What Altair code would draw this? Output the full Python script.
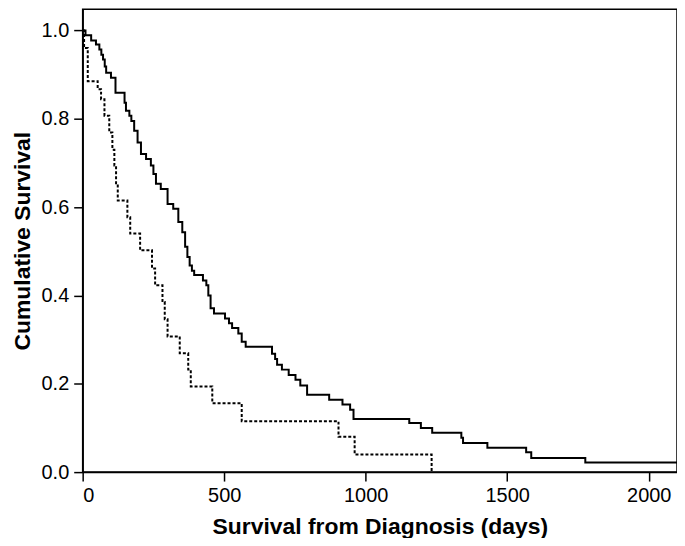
import altair as alt
import pandas as pd

# Solid curve (step-after): days, cumulative survival
solid_days = [0, 10, 30, 47, 59, 66, 72, 78, 83, 100, 116, 148, 153, 165, 172, 182, 194, 206,
              224, 241, 250, 259, 276, 300, 320, 338, 352, 362, 370, 378, 386, 394, 425, 437,
              444, 452, 464, 503, 517, 528, 550, 562, 576, 669, 680, 687, 704, 728, 752, 769,
              793, 871, 918, 945, 957, 1154, 1195, 1235, 1338, 1344, 1430, 1567, 1585, 1776, 2100]
solid_surv = [1.0, 0.989, 0.977, 0.968, 0.957, 0.945, 0.934, 0.918, 0.904, 0.893, 0.859, 0.836,
              0.818, 0.807, 0.795, 0.773, 0.746, 0.72, 0.709, 0.694, 0.675, 0.653, 0.641, 0.607,
              0.596, 0.566, 0.543, 0.51, 0.487, 0.468, 0.456, 0.446, 0.434, 0.423, 0.4, 0.371,
              0.359, 0.348, 0.337, 0.326, 0.314, 0.295, 0.284, 0.268, 0.256, 0.243, 0.232, 0.22,
              0.209, 0.196, 0.175, 0.164, 0.153, 0.141, 0.12, 0.111, 0.1, 0.089, 0.078, 0.066,
              0.055, 0.045, 0.032, 0.022, 0.022]

# Dashed curve (step-after)
dashed_days = [0, 5, 18, 53, 65, 77, 94, 105, 112, 118, 124, 158, 168, 203, 245, 256, 282, 290,
               300, 343, 373, 382, 458, 562, 904, 961, 1233]
dashed_surv = [1.0, 0.96, 0.885, 0.867, 0.844, 0.807, 0.769, 0.73, 0.694, 0.654, 0.615, 0.577,
               0.54, 0.502, 0.461, 0.423, 0.385, 0.346, 0.307, 0.269, 0.232, 0.194, 0.156, 0.115,
               0.08, 0.04, 0.0]

x_ticks = [0, 500, 1000, 1500, 2000]
y_ticks = [0.0, 0.2, 0.4, 0.6, 0.8, 1.0]

solid_df = pd.DataFrame({"days": solid_days, "surv": solid_surv})
dashed_df = pd.DataFrame({"days": dashed_days, "surv": dashed_surv})

FONT = "Liberation Sans"

x_enc = alt.X("days:Q",
              scale=alt.Scale(domain=[0, 2100], nice=False, zero=False),
              axis=alt.Axis(values=x_ticks, title="Survival from Diagnosis (days)",
                            format="d", grid=False))
y_enc = alt.Y("surv:Q",
              scale=alt.Scale(domain=[0, 1.048], nice=False),
              axis=alt.Axis(values=y_ticks, title="Cumulative Survival",
                            format=".1f", grid=False))

solid = alt.Chart(solid_df).mark_line(
    interpolate="step-after", color="black", strokeWidth=2
).encode(x=x_enc, y=y_enc)

dashed = alt.Chart(dashed_df).mark_line(
    interpolate="step-after", color="black", strokeWidth=2, strokeDash=[3, 2]
).encode(x=x_enc, y=y_enc)

chart = alt.layer(solid, dashed).properties(
    width=597, height=465,
    autosize=alt.AutoSizeParams(type="none"),
    padding={"left": 75, "top": 0, "right": 0, "bottom": 65},
).configure_view(
    stroke="black", strokeWidth=1.5
).configure_axis(
    domainColor="black", domainWidth=1.5, tickColor="black", tickWidth=1.5, tickSize=9,
    labelFont=FONT, labelFontSize=20, labelColor="black", labelPadding=5,
    titleFont=FONT, titleFontSize=23, titleFontWeight="bold", titleColor="black",
).configure_axisY(
    titlePadding=7
).configure_axisX(
    titlePadding=10
)

chart.save("out.html", embed_options={"renderer": "svg", "actions": False})
